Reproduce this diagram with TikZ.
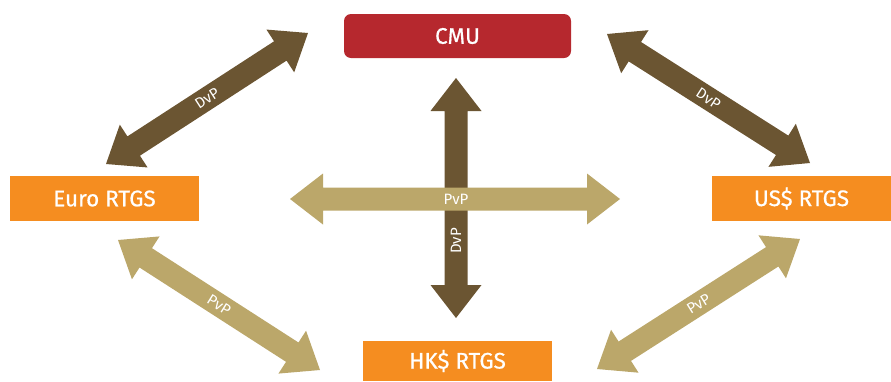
\documentclass[tikz,border=0pt]{standalone}
\usepackage{fontspec}
\setmainfont{Fira Sans}
\newfontfamily\boxfont{Fira Sans}[FakeBold=0.6]
\usetikzlibrary{calc}
\definecolor{dvpbrown}{RGB}{107,85,50}
\definecolor{pvptan}{RGB}{187,167,106}
\definecolor{cmured}{RGB}{182,40,46}
\definecolor{rtgsorange}{RGB}{245,141,32}
\newcommand\fatarrow[3]{%
  \fill[#3] (#1)
    -- ($(#1)!33pt!(#2)!25.5pt!90:(#2)$)
    -- ($(#1)!33pt!(#2)!11.5pt!90:(#2)$)
    -- ($(#2)!33pt!(#1)!11.5pt!-90:(#1)$)
    -- ($(#2)!33pt!(#1)!25.5pt!-90:(#1)$)
    -- (#2)
    -- ($(#2)!33pt!(#1)!25.5pt!90:(#1)$)
    -- ($(#2)!33pt!(#1)!11.5pt!90:(#1)$)
    -- ($(#1)!33pt!(#2)!11.5pt!-90:(#2)$)
    -- ($(#1)!33pt!(#2)!25.5pt!-90:(#2)$)
    -- cycle;}
\tikzset{
  box/.style={inner sep=0pt, text=white, font=\boxfont\fontsize{22.5}{22.5}\selectfont},
  lbl/.style={inner sep=0pt, text=white, font=\fontsize{15}{15}\selectfont},
}
\begin{document}
\begin{tikzpicture}[x=1pt,y=-1pt]
\useasboundingbox (0,0) rectangle (891,381);
% nodes
\node[box, fill=cmured, rounded corners=7pt, minimum width=227pt, minimum height=44pt] (cmu) at (457.5,36) {CMU};
\node[box, fill=rtgsorange, minimum width=189pt, minimum height=45pt] (euro) at (104.5,198.5) {Euro RTGS};
\node[box, fill=rtgsorange, minimum width=179pt, minimum height=45pt] (us) at (801.5,198.5) {US\$ RTGS};
\node[box, fill=rtgsorange, minimum width=189pt, minimum height=40pt] (hk) at (457.5,361) {HK\$ RTGS};
% arrow end points
\coordinate (vT) at (456,78);
\coordinate (vB) at (456,318);
\coordinate (hL) at (290,199);
\coordinate (hR) at (620,199);
\coordinate (tlA) at (106,164);
\coordinate (tlB) at (308,33);
\coordinate (trA) at (607,34);
\coordinate (trB) at (810,163);
\coordinate (blA) at (118,240);
\coordinate (blB) at (320,370);
\coordinate (brA) at (597,369);
\coordinate (brB) at (800,239);
% arrows
\fatarrow{tlA}{tlB}{dvpbrown}
\fatarrow{trA}{trB}{dvpbrown}
\fatarrow{blA}{blB}{pvptan}
\fatarrow{brA}{brB}{pvptan}
\fatarrow{vT}{vB}{dvpbrown}
\fatarrow{hL}{hR}{pvptan}
% labels
\node[lbl, rotate=33] (l1) at ($(tlA)!0.5!(tlB)$) {DvP};
\node[lbl, rotate=-33] (l2) at ($(trA)!0.5!(trB)$) {DvP};
\node[lbl, rotate=-32] (l3) at ($(blA)!0.5!(blB)$) {PvP};
\node[lbl, rotate=32] (l4) at ($(brA)!0.5!(brB)$) {PvP};
\node[lbl] (l5) at (456,199) {PvP};
\node[lbl, rotate=90] (l6) at (456,241) {DvP};
\end{tikzpicture}
\end{document}
